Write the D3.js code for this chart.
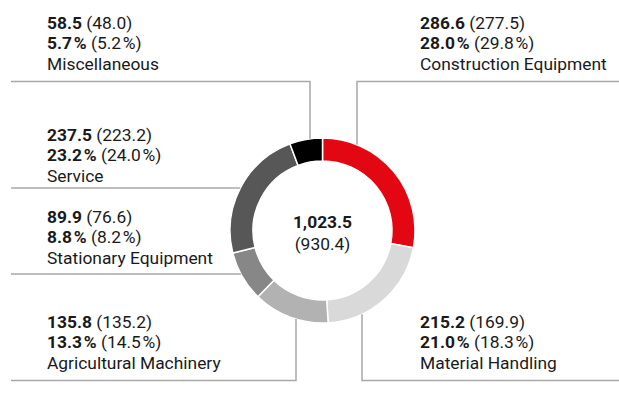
<!DOCTYPE html>
<html>
<head>
<meta charset="utf-8">
<script src="https://cdn.jsdelivr.net/npm/d3@7"></script>
<style>
  html, body { margin: 0; padding: 0; background: #fff; }
  svg { display: block; font-family: Roboto, "Noto Sans", sans-serif; }
  .leader { fill: none; stroke: #a8a8a8; stroke-width: 1.5; }
  .lbl { font-size: 17.4px; fill: #1a1a1a; }
</style>
</head>
<body>
<svg id="chart" width="619" height="401"></svg>
<script>
// segments, clockwise from 12 o'clock
var segments = ['Construction Equipment', 'Material Handling', 'Agricultural Machinery',
                'Stationary Equipment', 'Service', 'Miscellaneous'];
var values2 = [286.6, 215.2, 135.8, 89.9, 237.5, 58.5];
var values1 = [277.5, 169.9, 135.2, 76.6, 223.2, 48.0];
var shares2 = ['28.0', '21.0', '13.3', '8.8', '23.2', '5.7'];
var shares1 = ['29.8', '18.3', '14.5', '8.2', '24.0', '5.2'];
var colors = ['#e30613', '#d9d9d9', '#b2b2b2', '#878787', '#575757', '#000000'];
var total2 = '1,023.5';
var total1 = '(930.4)';

var cx = 322.5, cy = 230.5, rOuter = 92.5, rInner = 69.5;

// label block (left x, first row y) and leader: row y of horizontal, x of vertical, span
var layout = {
    'Construction Equipment': { x: 420, y: 23, hy: 81.5, vx: 357, from: 357, to: 619 },
    'Material Handling':      { x: 420, y: 322, hy: 380.5, vx: 362, from: 362, to: 619 },
    'Agricultural Machinery': { x: 47, y: 322, hy: 380.5, vx: 296, from: 11, to: 296 },
    'Stationary Equipment':   { x: 47, y: 217, hy: 274, vx: null, from: 11, to: null },
    'Service':                { x: 47, y: 135, hy: 188, vx: null, from: 11, to: null },
    'Miscellaneous':          { x: 47, y: 23, hy: 81.5, vx: 310, from: 11, to: 310 }
};

var svg = d3.select('#chart');

var pie = d3.pie().sort(null).value(function (d) { return d; });
var arc = d3.arc().innerRadius(rInner).outerRadius(rOuter);

var g = svg.append('g').attr('transform', 'translate(' + cx + ',' + cy + ')');
g.selectAll('path')
    .data(pie(values2))
    .enter().append('path')
    .attr('d', arc)
    .attr('fill', function (d, i) { return colors[i]; })
    .attr('stroke', '#fff')
    .attr('stroke-width', 1.5);

// leaders
segments.forEach(function (name) {
    var L = layout[name];
    var pts;
    if (L.vx !== null) {
        var dx = L.vx - cx;
        var dy = Math.sqrt(rOuter * rOuter - dx * dx);
        var yEdge = L.hy < cy ? cy - dy : cy + dy;
        if (L.from < L.vx) {
            pts = [[L.from, L.hy], [L.vx, L.hy], [L.vx, yEdge]];
        } else {
            pts = [[L.to, L.hy], [L.vx, L.hy], [L.vx, yEdge]];
        }
    } else {
        var ddy = L.hy - cy;
        var xEdge = cx - Math.sqrt(rOuter * rOuter - ddy * ddy);
        pts = [[L.from, L.hy], [xEdge, L.hy]];
    }
    svg.append('path').attr('class', 'leader').attr('d', d3.line()(pts));
});

// labels
segments.forEach(function (name, i) {
    var L = layout[name];
    var t = svg.append('text').attr('class', 'lbl').attr('x', L.x).attr('y', L.y)
        .attr('dominant-baseline', 'central');
    t.append('tspan').attr('font-weight', 'bold').text(d3.format('.1f')(values2[i]));
    t.append('tspan').text(' (' + d3.format('.1f')(values1[i]) + ')');

    var t2 = svg.append('text').attr('class', 'lbl').attr('x', L.x).attr('y', L.y + 20)
        .attr('dominant-baseline', 'central');
    t2.append('tspan').attr('font-weight', 'bold').text(shares2[i] + '\u200a%');
    t2.append('tspan').text(' (' + shares1[i] + '\u200a%)');

    svg.append('text').attr('class', 'lbl').attr('x', L.x).attr('y', L.y + 40.5)
        .attr('dominant-baseline', 'central').text(name);
});

// centre total
svg.append('text').attr('class', 'lbl').attr('x', cx).attr('y', cy - 8.5)
    .attr('text-anchor', 'middle').attr('dominant-baseline', 'central')
    .attr('font-weight', 'bold').text(total2);
svg.append('text').attr('class', 'lbl').attr('x', cx).attr('y', cy + 13)
    .attr('text-anchor', 'middle').attr('dominant-baseline', 'central')
    .text(total1);
</script>
</body>
</html>
